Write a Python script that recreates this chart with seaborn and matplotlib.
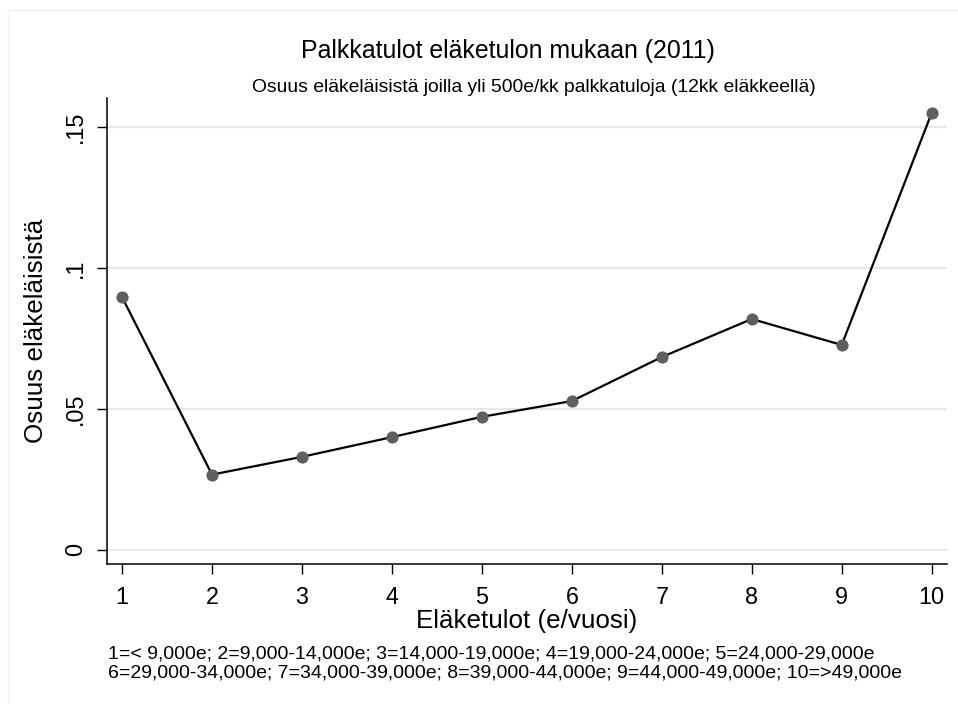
import matplotlib
matplotlib.use("Agg")
import matplotlib.pyplot as plt
import seaborn as sns
import pandas as pd
from matplotlib.lines import Line2D

categories = [1, 2, 3, 4, 5, 6, 7, 8, 9, 10]
shares = [0.0897, 0.0267, 0.0330, 0.0400, 0.0472, 0.0528, 0.0684, 0.0819, 0.0727, 0.1550]
yticks = [0, 0.05, 0.1, 0.15]
ytick_labels = ["0", ".05", ".1", ".15"]

title = "Palkkatulot eläketulon mukaan (2011)"
subtitle = "Osuus eläkeläisistä joilla yli 500e/kk palkkatuloja (12kk eläkkeellä)"
xlabel = "Eläketulot (e/vuosi)"
ylabel = "Osuus eläkeläisistä"
note = ("1=< 9,000e; 2=9,000-14,000e; 3=14,000-19,000e; 4=19,000-24,000e; 5=24,000-29,000e\n"
        "6=29,000-34,000e; 7=34,000-39,000e; 8=39,000-44,000e; 9=44,000-49,000e; 10=>49,000e")

df = pd.DataFrame({"cat": categories, "share": shares})

sns.set_theme(style="white")
plt.rcParams["font.family"] = ["Liberation Sans", "DejaVu Sans"]
plt.rcParams["text.color"] = "black"
plt.rcParams["axes.labelcolor"] = "black"
plt.rcParams["xtick.color"] = "black"
plt.rcParams["ytick.color"] = "black"

fig = plt.figure(figsize=(9.58, 7.04), dpi=100)
fig.patch.set_facecolor("white")
ax = fig.add_axes([0.1114, 0.1989, 0.8771, 0.6619])

for yv in yticks:
    ax.axhline(yv, color="#e8e8e8", lw=1.6, zorder=0)

sns.lineplot(data=df, x="cat", y="share", ax=ax, color="black", lw=1.6,
             marker="o", markersize=8, markerfacecolor="#5f5f5f",
             markeredgecolor="#5f5f5f", zorder=3)

ax.set_xlim(0.83, 10.17)
ax.set_ylim(-0.005, 0.1603)
ax.set_xticks(categories)
ax.set_xticklabels([str(c) for c in categories], fontsize=16.8)
ax.set_yticks(yticks)
ax.set_yticklabels(ytick_labels, fontsize=16.8, rotation=90, va="center")
ax.tick_params(axis="both", direction="out", length=7, width=1, color="black",
               bottom=True, left=True, pad=7)
ax.tick_params(axis="x", pad=8.5)
for s in ["top", "right"]:
    ax.spines[s].set_visible(False)
for s in ["left", "bottom"]:
    ax.spines[s].set_color("black")
    ax.spines[s].set_linewidth(1.1)

ax.set_xlabel(xlabel, fontsize=18.7, labelpad=0)
ax.set_ylabel(ylabel, fontsize=18.7, labelpad=12)

fig.text(0.5305, 0.927, title, fontsize=17.9, ha="center", va="center")
fig.text(0.5575, 0.875, subtitle, fontsize=13.9, ha="center", va="center")
fig.text(0.1127, 0.0575, note, fontsize=14.0, ha="left", va="center", linespacing=1.12)

# faint outer frame of the graph region
fig.add_artist(Line2D([8/958, 1.0], [1 - 10/704, 1 - 10/704], transform=fig.transFigure,
                      color="#f0f0f0", lw=1))
fig.add_artist(Line2D([8/958, 8/958], [0.0, 1 - 10/704], transform=fig.transFigure,
                      color="#f0f0f0", lw=1))

fig.savefig("out.png", dpi=100)
